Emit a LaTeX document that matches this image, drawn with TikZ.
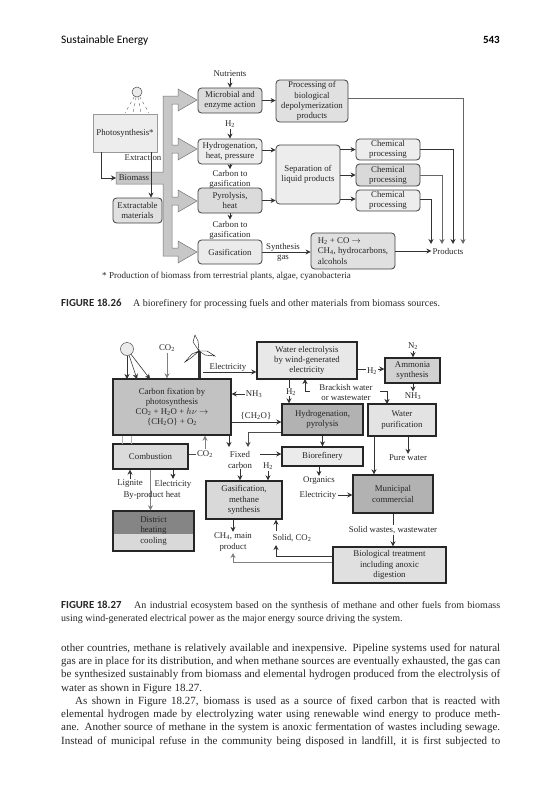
\documentclass[tikz,border=0pt]{standalone}
\usepackage{fontspec}
\setmainfont{Liberation Serif}
\newfontfamily\headfont{Carlito}
\usetikzlibrary{arrows.meta, positioning, calc}

\begin{document}
\begin{tikzpicture}[x=1pt, y=-1pt, >={Stealth[length=5pt,width=5pt]},
  lab/.style={inner sep=1pt, align=center, text=black!85, font=\fontsize{8.8}{10.2}\selectfont},
  labw/.style={lab, fill=white},
  tbox/.style={rectangle, draw=black!75, line width=0.8pt, fill=black!#1, rounded corners=3.5pt, inner sep=0pt, align=center, text=black!85, font=\fontsize{8.8}{10.2}\selectfont},
  sbox/.style={rectangle, draw=black!85, line width=1.4pt, fill=black!#1, inner sep=0pt, align=center, text=black!85, font=\fontsize{8.8}{10.2}\selectfont},
  arr/.style={->, line width=0.8pt, draw=black!80},
  garr/.style={->, line width=0.7pt, draw=black!50},
  bodyline/.style={anchor=base west, inner sep=0pt, text=black!85, font=\fontsize{11}{13}\selectfont},
  capline/.style={anchor=base west, inner sep=0pt, text=black!85, font=\fontsize{10}{12}\selectfont}
]
\useasboundingbox (0,0) rectangle (558,800);

% Page header
\node[anchor=base west, inner sep=0pt, font=\headfont\fontsize{11.4}{12}\selectfont] (headl) at (61,44) {Sustainable Energy};
\node[anchor=base east, inner sep=0pt, font=\headfont\bfseries\fontsize{11}{12}\selectfont] (headr) at (500,44) {543};

% Big gray feed arrows
\draw[draw=black!55, fill=black!22, line width=0.5pt] (116,172) -- (163,172) -- (163,96) -- (178,96) -- (178,89) -- (197,100) -- (178,111) -- (178,104) -- (172,104)
  -- (172,145) -- (178,145) -- (178,138) -- (197,149) -- (178,160) -- (178,153) -- (172,153)
  -- (172,197) -- (178,197) -- (178,190) -- (197,201) -- (178,212) -- (178,205) -- (172,205)
  -- (172,248) -- (178,248) -- (178,241) -- (197,252) -- (178,263) -- (178,256) -- (163,256)
  -- (163,184) -- (116,184) -- cycle;

% Top figure boxes
\node[rectangle, draw=black!40, line width=0.5pt, fill=black!7, minimum width=64pt, minimum height=38pt, inner sep=0pt, font=\fontsize{8.8}{10.2}\selectfont, text=black!85] (photo) at (125,133) {Photosynthesis*};
\node[tbox=12, minimum width=49pt, minimum height=25pt] (extract) at (137.5,210.5) {Extractable\\materials};
\node[tbox=14, minimum width=64pt, minimum height=25pt] (micro) at (230,100.5) {Microbial and\\enzyme action};
\node[tbox=7, minimum width=64pt, minimum height=25pt] (hydro) at (230,151.5) {Hydrogenation,\\heat, pressure};
\node[tbox=14, minimum width=64pt, minimum height=25pt] (pyro) at (230,200.5) {Pyrolysis,\\heat};
\node[tbox=8, minimum width=64pt, minimum height=24pt] (gasif) at (230,252) {Gasification};
\node[tbox=12, minimum width=72pt, minimum height=42pt] (proc) at (312,101) {Processing of\\biological\\depolymerization\\products};
\node[tbox=7, minimum width=64pt, minimum height=59pt] (sep) at (308,174.5) {Separation of\\liquid products};
\node[tbox=7, minimum width=64pt, minimum height=21pt] (chem1) at (388,149.5) {Chemical\\processing};
\node[tbox=15, minimum width=64pt, minimum height=22pt] (chem2) at (388,175) {Chemical\\processing};
\node[tbox=7, minimum width=64pt, minimum height=21pt] (chem3) at (388,200.5) {Chemical\\processing};
\node[tbox=12, minimum width=84pt, minimum height=36pt, align=left] (h2box) at (353,251) {H\textsubscript{2} + CO $\rightarrow$\\CH\textsubscript{4}, hydrocarbons,\\alcohols};

% Top figure labels
\node[circle, draw=black!70, fill=black!8, line width=0.5pt, minimum size=10pt, inner sep=0pt] (sun1) at (137,92) {};
\node[lab] (nutr) at (230,74) {Nutrients};
\node[lab] (h2a) at (230,124) {H\textsubscript{2}};
\node[lab] (carb1) at (230,179.5) {Carbon to\\gasification};
\node[lab] (carb2) at (230,230) {Carbon to\\gasification};
\node[lab] (extr) at (143,158) {Extraction};
\node[lab] (biomass) at (134,178) {Biomass};
\node[lab] (synth) at (283,252.5) {Synthesis\\gas};
\node[lab] (products) at (448,251) {Products};
\node[lab, anchor=west, inner sep=0pt, font=\fontsize{9.1}{9}\selectfont] (foot) at (102,276) {* Production of biomass from terrestrial plants, algae, cyanobacteria};

% Sun rays
\foreach \i/\x in {1/125,2/133,3/141,4/149} {
  \coordinate (r\i) at (\x,113);
  \draw[dashed, line width=0.4pt, black!60] (sun1) -- (r\i);
}

% Top figure connectors
\coordinate (ph1) at (101,152);
\coordinate (bio1) at (116,178);
\coordinate (ex1) at (151,152);
\draw[arr] (ph1) |- (bio1);
\draw[arr] (ex1) -- (ex1 |- extract.north);
\draw[arr] (nutr.south) -- (micro.north);
\draw[arr] (h2a.south) -- (hydro.north);
\draw[arr] (hydro.south) -- (carb1.north);
\draw[arr] (pyro.south) -- (carb2.north);
\draw[arr] (micro.east) -- (micro.east -| proc.west);
\draw[arr] ([yshift=1.5pt]hydro.east) -- ([yshift=1.5pt]hydro.east -| sep.west);
\draw[arr] (pyro.east) -- (pyro.east -| sep.west);
\draw[arr] (chem1.west -| sep.east) -- (chem1.west);
\draw[arr] (chem2.west -| sep.east) -- (chem2.west);
\draw[arr] ([yshift=1.5pt]chem3.west -| sep.east) -- ([yshift=1.5pt]chem3.west);
\draw[arr] (gasif.east) -- (gasif.east -| h2box.west);
\draw[arr] (h2box.east) -- (products.west);
\coordinate (p1) at (431,244);
\coordinate (p2) at (442,244);
\coordinate (p3) at (453,244);
\coordinate (p4) at (463,244);
\draw[arr] ([yshift=1.5pt]chem3.east) -| (p1);
\draw[arr, draw=black!60] (chem2.east) -| (p2);
\draw[arr] (chem1.east) -| (p3);
\draw[arr, draw=black!60] ([yshift=3pt]proc.east) -| (p4);

% Caption 18.26
\node[capline] (cap1a) at (61,306) {\headfont\bfseries\fontsize{10.8}{12}\selectfont FIGURE 18.26};
\node[capline] (cap1b) at (133,306) {A biorefinery for processing fuels and other materials from biomass sources.};

% Lower figure boxes
\node[sbox=9, minimum width=100pt, minimum height=37pt] (elec) at (307,360.5) {Water electrolysis\\by wind-generated\\electricity};
\node[sbox=24, minimum width=118pt, minimum height=56pt] (fix) at (172,407) {Carbon fixation by\\photosynthesis\\CO\textsubscript{2} + H\textsubscript{2}O + $h\nu$ $\rightarrow$\\\{CH\textsubscript{2}O\} + O\textsubscript{2}};
\node[sbox=30, minimum width=81pt, minimum height=31pt] (hydrog) at (322.5,419.5) {Hydrogenation,\\pyrolysis};
\node[sbox=18, minimum width=55pt, minimum height=25pt] (amm) at (412.5,370.5) {Ammonia\\synthesis};
\node[sbox=11, minimum width=68pt, minimum height=32pt] (purif) at (402,420) {Water\\purification};
\node[sbox=8, minimum width=81pt, minimum height=19pt] (biof) at (322.5,456.5) {Biorefinery};
\node[sbox=14, minimum width=75pt, minimum height=25pt] (comb) at (150.5,456.5) {Combustion};
\node[sbox=15, minimum width=81pt, minimum height=40pt, path picture={\fill[black!48] (path picture bounding box.north west) rectangle ([yshift=-3pt]path picture bounding box.east);}] (dist) at (153.5,531) {District\\heating\\cooling};
\node[sbox=15, minimum width=76pt, minimum height=38pt] (gasm) at (244,500) {Gasification,\\methane\\synthesis};
\node[sbox=30, minimum width=80pt, minimum height=38pt] (muni) at (393,494) {Municipal\\commercial};
\node[sbox=12, minimum width=113pt, minimum height=36pt] (bio) at (389.5,565) {Biological treatment\\including anoxic\\digestion};

% Wind turbine
\coordinate (hub) at (199,351);
\draw[line width=3pt, black!80] (hub) -- (199,378);
\draw[fill=white, line width=0.4pt] (hub) -- (193,342) -- (195,335) -- (198,341) -- cycle;
\draw[fill=white, line width=0.4pt] (hub) -- (207,351) -- (215,356) -- (205,355) -- cycle;
\draw[fill=white, line width=0.4pt] (hub) -- (192,354) -- (185,362) -- (191,358) -- cycle;

% Lower figure labels
\node[circle, draw=black!70, fill=black!8, line width=0.5pt, minimum size=13pt, inner sep=0pt] (sun2) at (127,349) {};
\node[lab] (co2a) at (167,348) {CO\textsubscript{2}};
\node[lab] (elecl) at (228,367) {Electricity};
\node[lab] (nh3a) at (254,394) {NH\textsubscript{3}};
\node[lab] (ch2o) at (256,416) {\{CH\textsubscript{2}O\}};
\node[lab] (brack) at (346,392.5) {Brackish water\\or wastewater};
\node[lab] (n2) at (413,346) {N\textsubscript{2}};
\node[lab] (nh3b) at (413,396) {NH\textsubscript{3}};
\node[lab] (pure) at (408,458) {Pure water};
\node[lab] (co2c) at (205,454) {CO\textsubscript{2}};
\node[lab] (fixedc) at (240,460) {Fixed\\carbon};
\node[lab] (h2c) at (268,466) {H\textsubscript{2}};
\node[lab] (organ) at (319,481) {Organics};
\node[lab] (electb) at (318,495) {Electricity};
\node[lab] (lignite) at (130,484) {Lignite};
\node[lab] (electc) at (173,484) {Electricity};
\node[lab] (ch4) at (233,542) {CH\textsubscript{4}, main\\product};
\node[lab] (solid) at (292,538) {Solid, CO\textsubscript{2}};

% Lower figure connectors
\foreach \i/\x in {1/127,2/137,3/150} {
  \coordinate (s\i) at (\x,379);
  \draw[arr, line width=0.6pt] (sun2) -- (s\i);
}
\foreach \x in {122,131} {
  \coordinate (t\x) at (\x,444);
  \draw[line width=0.4pt, black!30] (t\x |- fix.south) -- (t\x);
}
\draw[garr] (co2a.south) -- (co2a.south |- fix.north);
\coordinate (eleca) at (203,372);
\draw[arr] (eleca) -- (eleca -| elec.west);
\draw[arr] (nh3a.west) -- (nh3a.west -| fix.east);
\draw[arr] ([yshift=-15pt]fix.east) -- ([yshift=-15pt]fix.east -| hydrog.west);
\coordinate (h2t) at (289,379);
\draw[arr] (h2t) -- (h2t |- hydrog.north);
\node[labw] (h2b) at (291,392) {H\textsubscript{2}};
\draw[arr] ([yshift=-8.5pt]elec.east) -- ([yshift=-8.5pt]elec.east -| amm.west);
\node[labw] (h2d) at (372,371) {H\textsubscript{2}};
\draw[arr] (n2.south) -- (n2.south |- amm.north);
\draw[arr] (nh3b.north |- amm.south) -- (nh3b.north);
\coordinate (br1) at (310,391);
\coordinate (br2) at (305,379);
\coordinate (br3) at (380,391);
\coordinate (br4) at (387,404);
\draw[arr, line width=0.6pt] (br1) -| (br2);
\draw[arr, line width=0.6pt] (br3) -| (br4);
\draw[arr] (pure.north |- purif.south) -- (pure.north);
\coordinate (pm) at (374,436);
\draw[arr] (pm) -- (pm |- muni.north);
\draw[arr] (hydrog.south) -- (biof.north);
\draw[arr] (organ.north |- biof.south) -- (organ.north);
\draw[arr] (electb.east) -- (electb.east -| muni.west);
\draw[arr] (muni.south) -- (muni.south |- bio.north);
\node[labw] (solidw) at (393,530) {Solid wastes, wastewater};
\coordinate (so) at (276,545);
\coordinate (cm) at (233,553);
\draw[arr] ([yshift=9pt]bio.west) -| (so);
\draw[garr] ([yshift=3pt]bio.west) -| (cm);
\draw[arr] (ch4.north |- gasm.south) -- (ch4.north);
\coordinate (sg) at (276,531);
\draw[arr] (sg) -- (sg |- gasm.south);
\coordinate (fx1) at (229,447);
\coordinate (fx2) at (248,447);
\draw[arr] (fx1 |- fix.south) -- (fx1);
\draw[garr, draw=black!70] ([yshift=-12.5pt]hydrog.west) -| (fx2);
\coordinate (fixb) at (260,454);
\draw[arr] (fixb) -- (fixb -| biof.west);
\draw[arr] (fixedc.south) -- (fixedc.south |- gasm.north);
\draw[arr] (h2c.south) -- (h2c.south |- gasm.north);
\draw[line width=0.6pt, black!70] (comb.east |- co2c.west) -- (co2c.west);
\draw[garr] (co2c.north) -- (co2c.north |- fix.south);
\draw[arr, line width=0.5pt] (lignite.north) -- (lignite.north |- comb.south);
\draw[arr, line width=0.5pt] (electc.north |- comb.south) -- (electc.north);
\draw[garr] (comb.south) -- (comb.south |- dist.north);
\node[lab] (byprod) at (152,495) {By-product heat};

% Caption 18.27
\node[capline] (cap2a) at (61,608) {\headfont\bfseries\fontsize{10.8}{12}\selectfont FIGURE 18.27};
\node[capline] (cap2b) at (134,608) {\makebox[366pt][s]{An industrial ecosystem based on the synthesis of methane and other fuels from biomass}};
\node[capline] (cap2c) at (61,621) {using wind-generated electrical power as the major energy source driving the system.};

% Body text
\node[bodyline] (t1) at (61,651) {\makebox[439pt][s]{other countries, methane is relatively available and inexpensive. Pipeline systems used for natural}};
\node[bodyline] (t2) at (61,664) {\makebox[439pt][s]{gas are in place for its distribution, and when methane sources are eventually exhausted, the gas can}};
\node[bodyline] (t3) at (61,677) {\makebox[439pt][s]{be synthesized sustainably from biomass and elemental hydrogen produced from the electrolysis of}};
\node[bodyline] (t4) at (61,691) {water as shown in Figure 18.27.};
\node[bodyline] (t5) at (75,704) {\makebox[425pt][s]{As shown in Figure 18.27, biomass is used as a source of fixed carbon that is reacted with}};
\node[bodyline] (t6) at (61,717) {\makebox[439pt][s]{elemental hydrogen made by electrolyzing water using renewable wind energy to produce meth-}};
\node[bodyline] (t7) at (61,730) {\makebox[439pt][s]{ane. Another source of methane in the system is anoxic fermentation of wastes including sewage.}};
\node[bodyline] (t8) at (61,744) {\makebox[439pt][s]{Instead of municipal refuse in the community being disposed in landfill, it is first subjected to}};
\end{tikzpicture}
\end{document}
